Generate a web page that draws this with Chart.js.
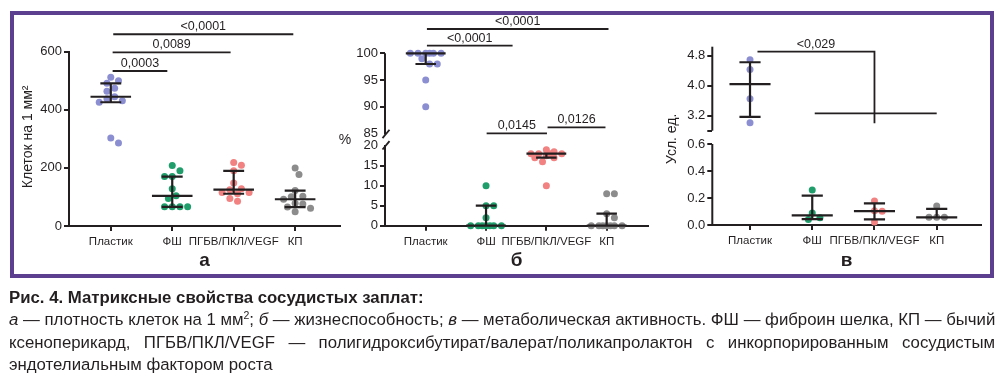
<!DOCTYPE html>
<html><head><meta charset="utf-8">
<script src="https://cdn.jsdelivr.net/npm/chart.js@4/dist/chart.umd.min.js"></script>
<style>
html,body{margin:0;padding:0;background:#fff;width:1005px;height:381px;overflow:hidden;}
#frame{position:absolute;left:10px;top:11px;width:976px;height:259px;border:4px solid #5c3f8e;}
canvas{position:absolute;left:0;top:0;}
#cap{position:absolute;left:9px;top:287px;width:986px;font-family:"Liberation Sans",Arial,sans-serif;font-size:16.8px;line-height:22.4px;color:#231f20;}
#cap div{white-space:nowrap;}
#cap .j{text-align:justify;text-align-last:justify;}
#cap sup{font-size:10.5px;line-height:0;vertical-align:6px;}
</style></head><body>
<div id="frame"></div>
<canvas id="ca" width="1005" height="381"></canvas>
<canvas id="cb" width="1005" height="381"></canvas>
<canvas id="cc" width="1005" height="381"></canvas>
<div id="cap">
<div><b>Рис. 4. Матриксные свойства сосудистых заплат:</b></div>
<div class="j"><i>а</i> — плотность клеток на 1 мм<sup>2</sup>; <i>б</i> — жизнеспособность; <i>в</i> — метаболическая активность. ФШ — фиброин шелка, КП — бычий</div>
<div class="j">ксеноперикард, ПГБВ/ПКЛ/VEGF — полигидроксибутират/валерат/поликапролактон с инкорпорированным сосудистым</div>
<div>эндотелиальным фактором роста</div>
</div>
<script>
// ---------- DATA ----------
const categories = ['Пластик', 'ФШ', 'ПГБВ/ПКЛ/VEGF', 'КП'];

// a — cell density, cells per mm²
const densPlastic = [512, 500, 491, 474, 464, 445, 438, 431, 426, 303, 286];
const densFSh     = [208, 190, 170, 170, 128, 104, 95, 66, 66, 66, 66];
const densPGBV    = [219, 209, 190, 148, 128, 125, 115, 115, 111, 95, 85];
const densKP      = [200, 177, 122, 102, 101, 92, 78, 76, 65, 61, 49];
const densTicks   = [0, 200, 400, 600];
const densPLabels = ['0,0003', '0,0089', '<0,0001'];

// б — viability, %
const viabPlastic = [100, 100, 100, 100, 100, 100, 99, 98, 98, 95, 90];
const viabFSh     = [10, 5, 5, 2, 0, 0, 0, 0, 0, 0, 0];
const viabPGBV    = [19, 18.5, 18, 18, 18, 18, 17.5, 17, 17, 16, 10];
const viabKP      = [8, 8, 3, 2, 0, 0, 0, 0, 0, 0, 0];
const viabTicksUpper = [85, 90, 95, 100];
const viabTicksLower = [0, 5, 10, 15, 20];
const viabPLabels = ['<0,0001', '<0,0001', '0,0145', '0,0126'];

// в — metabolic activity, arb. units
const metPlastic = [4.69, 4.43, 3.65, 3.01];
const metFSh     = [0.26, 0.089, 0.054, 0.04];
const metPGBV    = [0.178, 0.106, 0.101, 0.022];
const metKP      = [0.141, 0.057, 0.057, 0.057];
const metTicksUpper = [2.8, 3.2, 4.0, 4.8];
const metTicksLower = [0, 0.2, 0.4, 0.6];
const metPLabels = ['<0,029'];

// ---------- STYLE ----------
const INK = '#231f20';
const COLORS = ['#8b8fd2', '#1f9e6c', '#f28181', '#8c8c8c'];
const FONT = '"Liberation Sans", Arial, sans-serif';
Chart.defaults.font.family = FONT;
Chart.defaults.color = INK;

function quart(vals, p) {
  const s = [...vals].sort((a, b) => a - b), n = s.length;
  let pos = (n + 1) * p;
  if (pos < 1) pos = 1; if (pos > n) pos = n;
  const lo = Math.floor(pos), f = pos - lo;
  return lo >= n ? s[n - 1] : s[lo - 1] + f * (s[lo] - s[lo - 1]);
}
function summaryLines(vals, c) {
  const q1 = quart(vals, 0.25), md = quart(vals, 0.5), q3 = quart(vals, 0.75);
  const M = 0.33, C = 0.17;
  return [
    {x: c - M, y: md}, {x: c + M, y: md}, {x: c, y: null},
    {x: c, y: q1}, {x: c, y: q3}, {x: c, y: null},
    {x: c - C, y: q3}, {x: c + C, y: q3}, {x: c, y: null},
    {x: c - C, y: q1}, {x: c + C, y: q1}
  ];
}
function groupDatasets(groups, axisIds) {
  const out = [];
  groups.forEach((vals, i) => {
    const c = i + 1;
    out.push({type: 'scatter', rawValues: vals, cat: c, data: vals.map(v => ({x: c, y: v})),
      backgroundColor: COLORS[i], pointRadius: 3.5, pointBorderWidth: 0, pointHoverRadius: 3.5,
      yAxisID: axisIds[i], order: 1, clip: false});
    out.push({type: 'scatter', showLine: true, spanGaps: false, data: summaryLines(vals, c),
      borderColor: INK, borderWidth: 2.2, pointRadius: 0, pointHoverRadius: 0,
      yAxisID: axisIds[i], order: 0, clip: false});
  });
  return out;
}
// beeswarm placement of the dots (computed in pixels, converted back to axis units)
function swarm(chart) {
  const xs = chart.scales.x;
  const unit = xs.getPixelForValue(2) - xs.getPixelForValue(1);
  const STEP = 3.85, MIN = 7, W = 16;
  chart.data.datasets.forEach(ds => {
    if (!ds.rawValues) return;
    const ys = chart.scales[ds.yAxisID];
    const placed = [];
    ds.data = ds.rawValues.map(v => {
      const py = ys.getPixelForValue(v);
      let off = null, best = 0, bestD = -1;
      for (let k = 0; k < 40; k++) {
        const cand = k === 0 ? 0 : (k % 2 ? 1 : -1) * Math.ceil(k / 2) * STEP;
        if (Math.abs(cand) > W) break;
        const d = placed.length ? Math.min(...placed.map(p => Math.hypot(p.x - cand, p.y - py))) : 99;
        if (d >= MIN) { off = cand; break; }
        if (d > bestD + 0.01) { bestD = d; best = cand; }
      }
      if (off === null) off = best;
      placed.push({x: off, y: py});
      return {x: ds.cat + off / unit, y: v};
    });
  });
  chart.update('none');
}
function xScale(min, max, title, h) {
  return {type: 'linear', position: 'bottom', min, max,
    afterBuildTicks: s => { s.ticks = categories.map((c, i) => ({value: i + 1})); },
    ticks: {callback: v => categories[Math.round(v) - 1], font: {size: 11.5}, color: INK, padding: 4, autoSkip: false, maxRotation: 0},
    grid: {drawOnChartArea: false, drawTicks: true, tickLength: 5, lineWidth: 2, color: INK},
    border: {display: true, width: 2, color: INK},
    title: {display: true, text: title, font: {size: 19, weight: 'bold'}, color: INK, padding: 0},
    afterFit: s => { s.height = h; }};
}
function yScale(min, max, ticks, fmt, extra) {
  return Object.assign({type: 'linear', position: 'left', min, max,
    afterBuildTicks: s => { s.ticks = ticks.map(v => ({value: v})); },
    ticks: {font: {size: 13}, color: INK, padding: 2, callback: fmt, autoSkip: false},
    grid: {drawOnChartArea: false, drawTicks: true, tickLength: 5, lineWidth: 2, color: INK},
    border: {display: true, width: 2, color: INK},
    afterFit: s => { s.width = 30; }}, extra || {});
}
function decor(cfg) {
  return {id: 'decor', afterDraw(chart) {
    const ctx = chart.ctx, ca = chart.chartArea, xs = chart.scales.x;
    ctx.save();
    ctx.strokeStyle = INK; ctx.fillStyle = INK; ctx.lineCap = 'butt';
    (cfg.segments || []).forEach(sg => {
      const ys = chart.scales[sg.axis];
      ctx.lineWidth = 2;
      ctx.beginPath();
      ctx.moveTo(ca.left, ys.getPixelForValue(sg.from));
      ctx.lineTo(ca.left, ys.getPixelForValue(sg.to));
      ctx.stroke();
      if (sg.slash !== undefined) {
        const yy = ys.getPixelForValue(sg.slash), xx = ca.left + 1;
        ctx.lineWidth = 1.8;
        ctx.beginPath(); ctx.moveTo(xx - 3.5, yy + 4.2); ctx.lineTo(xx + 3.5, yy - 4.2); ctx.stroke();
      }
    });
    ctx.lineWidth = 1.8;
    ctx.font = '12.5px ' + FONT; ctx.textAlign = 'center'; ctx.textBaseline = 'alphabetic';
    (cfg.brackets || []).forEach(b => {
      const ys = chart.scales[b.axis];
      const x1 = xs.getPixelForValue(b.x1), x2 = xs.getPixelForValue(b.x2), y = ys.getPixelForValue(b.y);
      ctx.beginPath(); ctx.moveTo(x1, y); ctx.lineTo(x2, y);
      if (b.down !== undefined) ctx.lineTo(x2, ys.getPixelForValue(b.down));
      ctx.stroke();
      if (b.cross) {
        const cy = ys.getPixelForValue(b.cross.y);
        ctx.beginPath(); ctx.moveTo(xs.getPixelForValue(b.cross.x1), cy); ctx.lineTo(xs.getPixelForValue(b.cross.x2), cy); ctx.stroke();
      }
      ctx.fillText(b.label, (x1 + x2) / 2, y - 4);
    });
    const t = cfg.ytitle;
    ctx.font = '14px ' + FONT; ctx.textBaseline = 'middle';
    ctx.translate(ca.left + t.dx, (ca.top + ca.bottom) / 2 + t.dy);
    if (t.rotate) ctx.rotate(-Math.PI / 2);
    ctx.fillText(t.text, 0, 0);
    ctx.restore();
  }};
}
function makeChart(id, datasets, scales, padding, deco) {
  const ch = new Chart(document.getElementById(id), {
    data: {datasets},
    options: {responsive: false, animation: false, events: [],
      layout: {padding},
      plugins: {legend: {display: false}, tooltip: {enabled: false}},
      scales},
    plugins: [decor(deco)]
  });
  swarm(ch);
  return ch;
}
const fmt1 = v => v.toFixed(1);

// ---------- PANEL а ----------
makeChart('ca',
  groupDatasets([densPlastic, densFSh, densPGBV, densKP], ['y', 'y', 'y', 'y']),
  {x: xScale(0.32, 4.73, 'а', 46.4), y: yScale(0, 600, densTicks, v => String(v))},
  {left: 39, top: 51.7, right: 665, bottom: 108.6},
  {ytitle: {text: 'Клеток на 1 мм²', dx: -41, dy: -2, rotate: true},
   brackets: [
     {axis: 'y', x1: 1.03, x2: 1.92, y: 533.6, label: densPLabels[0]},
     {axis: 'y', x1: 1.03, x2: 2.95, y: 598, label: densPLabels[1]},
     {axis: 'y', x1: 1.04, x2: 3.97, y: 660, label: densPLabels[2]}
   ]});

// ---------- PANEL б ----------
const gridNoEnd = ends => ({drawOnChartArea: false, drawTicks: true, tickLength: 5, lineWidth: 2,
  color: c => (c.tick && ends.includes(c.tick.value)) ? 'rgba(0,0,0,0)' : INK});
makeChart('cb',
  groupDatasets([viabPlastic, viabFSh, viabPGBV, viabKP], ['yU', 'yL', 'yL', 'yL']),
  {x: xScale(0.325, 4.685, 'б', 46.7),
   yL: yScale(0, 21.675, viabTicksLower, v => String(v), {stack: 'b', stackWeight: 86.7, weight: 0, border: {display: false}, grid: gridNoEnd([20])}),
   yU: yScale(83.95, 100, viabTicksUpper, v => String(v), {stack: 'b', stackWeight: 85.7, weight: 1, border: {display: false}, grid: gridNoEnd([85])})},
  {left: 355, top: 53.3, right: 357, bottom: 108.6},
  {ytitle: {text: '%', dx: -40, dy: 0.5, rotate: false},
   segments: [
     {axis: 'yU', from: 100, to: 84.8, slash: 84.9},
     {axis: 'yL', from: 20.2, to: 0, slash: 20.1}
   ],
   brackets: [
     {axis: 'yU', x1: 1.02, x2: 4.03, y: 104.55, label: viabPLabels[0]},
     {axis: 'yU', x1: 1.02, x2: 2.44, y: 101.42, label: viabPLabels[1]},
     {axis: 'yL', x1: 2.01, x2: 3.01, y: 23.1, label: viabPLabels[2]},
     {axis: 'yL', x1: 3.02, x2: 3.98, y: 24.6, label: viabPLabels[3]}
   ]});

// ---------- PANEL в ----------
makeChart('cc',
  groupDatasets([metPlastic, metFSh, metPGBV, metKP], ['yU', 'yL', 'yL', 'yL']),
  {x: xScale(0.394, 4.707, 'в', 47.4),
   yL: yScale(0, 0.652, metTicksLower, fmt1, {stack: 'c', stackWeight: 88, weight: 0, border: {display: false}}),
   yU: yScale(2.632, 5.04, metTicksUpper, v => (v === metTicksUpper[0] ? '' : v.toFixed(1)), {stack: 'c', stackWeight: 90.3, weight: 1, border: {display: false}})},
  {left: 682.3, top: 46.7, right: 24.3, bottom: 108.6},
  {ytitle: {text: 'Усл. ед.', dx: -40.6, dy: 3, rotate: true},
   segments: [
     {axis: 'yU', from: 5.04, to: 2.8},
     {axis: 'yL', from: 0.6, to: 0}
   ],
   brackets: [
     {axis: 'yU', x1: 1.12, x2: 3, y: 4.907, down: 2.997, cross: {x1: 2.04, x2: 4.0, y: 3.264}, label: metPLabels[0]}
   ]});
</script>
</body></html>
